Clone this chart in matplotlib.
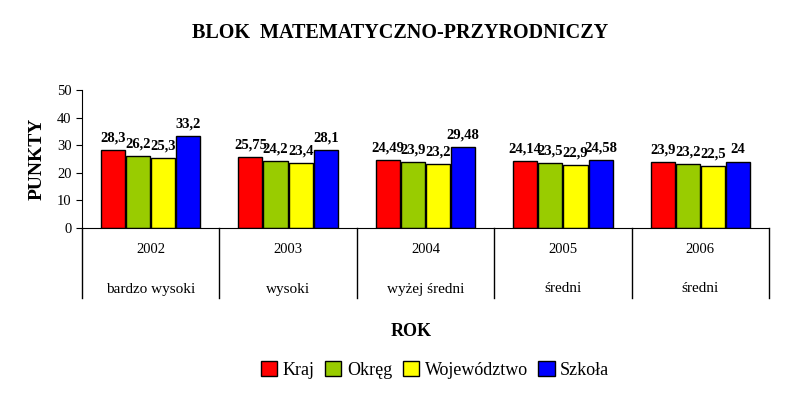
import numpy as np
import matplotlib.pyplot as plt
import matplotlib.transforms as mtransforms

plt.rcParams['font.family'] = ['Liberation Serif', 'DejaVu Serif']

years = ['2002', '2003', '2004', '2005', '2006']
levels = ['bardzo wysoki', 'wysoki', 'wyżej średni', 'średni', 'średni']
series = ['Kraj', 'Okręg', 'Województwo', 'Szkoła']
kraj = [28.3, 25.75, 24.49, 24.14, 23.9]
okreg = [26.2, 24.2, 23.9, 23.5, 23.2]
woj = [25.3, 23.4, 23.2, 22.9, 22.5]
szkola = [33.2, 28.1, 29.48, 24.58, 24]
colors = ['#FF0000', '#99CC00', '#FFFF00', '#0000FF']

fig = plt.figure(figsize=(7.99, 3.94), dpi=100)
ax = fig.add_axes([82/799, 1-228/394, 687/799, 138/394])

x = np.arange(len(years))
w = 0.183
for i, (vals, c) in enumerate(zip([kraj, okreg, woj, szkola], colors)):
    pos = x - 1.5*w + i*w
    ax.bar(pos, vals, w*0.96, color=c, edgecolor='black', linewidth=1, label=series[i])
    for p, v in zip(pos, vals):
        ax.text(p, v + 2.0, ('%g' % v).replace('.', ','), ha='center', va='bottom',
                fontsize=10.5, fontweight='bold')

ax.set_xlim(-0.5, len(years) - 0.5)
ax.set_ylim(0, 50)
ax.set_yticks(range(0, 51, 10))
ax.set_xticks([])
for s in ['top', 'right']:
    ax.spines[s].set_visible(False)
ax.tick_params(axis='y', labelsize=10.5, direction='out', length=4)

# category table below the axis
tr = mtransforms.blended_transform_factory(ax.transData, ax.transAxes)
for b in np.arange(-0.5, len(years), 1.0):
    ax.plot([b, b], [0, -70/138], color='black', lw=1, transform=tr, clip_on=False)
for xi, y, l in zip(x, years, levels):
    ax.text(xi, -22/138, y, ha='center', va='center', fontsize=10.5, transform=tr)
    ax.text(xi, -61/138, l, ha='center', va='center', fontsize=11, transform=tr)

ax.set_ylabel('PUNKTY', fontsize=14, fontweight='bold', labelpad=8)
fig.text(400/799, 1-33/394, 'BLOK  MATEMATYCZNO-PRZYRODNICZY', ha='center', va='center',
         fontsize=14.5, fontweight='bold')
fig.text(411/799, 1-331/394, 'ROK', ha='center', va='center', fontsize=13, fontweight='bold')

fig.legend(loc='center', bbox_to_anchor=(435/799, 1-370/394), ncol=4, frameon=False,
           prop={'family': 'Liberation Serif', 'size': 13}, handlelength=0.9,
           handleheight=0.9, handletextpad=0.3, columnspacing=0.6)

fig.savefig('out.png', dpi=100)
